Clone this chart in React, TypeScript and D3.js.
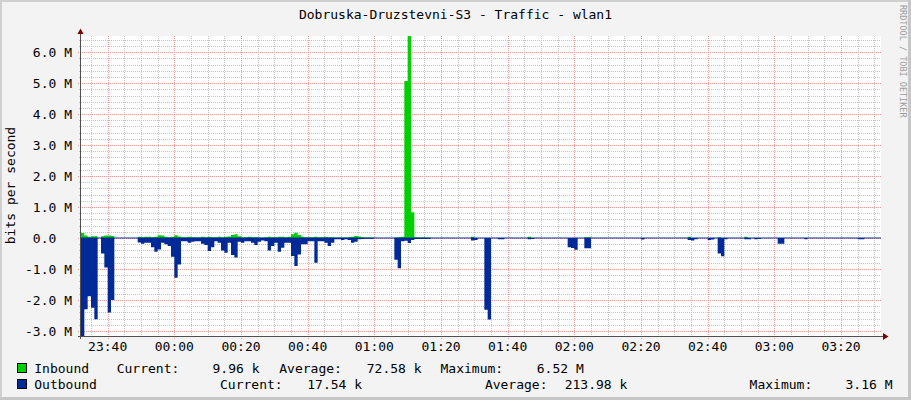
import React from "react";
import * as d3 from "d3";

const W = 911;
const H = 400;
const title = "Dobruska-Druzstevni-S3 - Traffic - wlan1";
const yTitle = "bits per second";
const watermark = "RRDTOOL / TOBI OETIKER";
const startTime = new Date(2020, 0, 1, 23, 32, 0);
const minutes = 240;
const yDomain = [-3.16, 6.52]; // Mbit/s

// Inbound, Mbit/s per minute from 23:32
const inbound = [
  0.16, 0.08, 0.04, 0.06, 0.06, 0, 0.06, 0.08, 0.08, 0.07, 0, 0, 0, 0, 0, 0, 0, 0.04, 0.03, 0.04,
  0.04, 0.03, 0.04, 0.09, 0.08, 0.04, 0.03, 0.04, 0.09, 0.05, 0.03, 0.03, 0.04, 0.03, 0.03, 0.03, 0.04, 0.03, 0.04, 0.03,
  0.03, 0.04, 0.03, 0.04, 0.05, 0.1, 0.12, 0.06, 0.03, 0.03, 0.04, 0.03, 0.03, 0.02, 0.02, 0.03, 0.04, 0.03, 0.03, 0.04,
  0.04, 0.03, 0.04, 0.12, 0.17, 0.1, 0.04, 0.03, 0.03, 0.03, 0.04, 0.03, 0.03, 0.04, 0.03, 0.03, 0.02, 0.02, 0.02, 0.02,
  0.03, 0.04, 0.07, 0.05, 0.03, 0.02, 0.02, 0.02, 0, 0, 0, 0, 0, 0, 0.02, 0.03, 0.04, 5.07, 6.52, 0.83,
  0.03, 0.02, 0.02, 0.02, 0.02, 0, 0, 0, 0, 0, 0, 0, 0, 0, 0, 0, 0, 0.04, 0, 0,
  0, 0, 0, 0, 0, 0, 0, 0, 0, 0, 0, 0, 0, 0, 0.04, 0, 0, 0, 0, 0,
  0, 0, 0, 0, 0, 0, 0, 0, 0, 0, 0, 0.03, 0.03, 0, 0, 0, 0, 0, 0, 0,
  0, 0, 0, 0, 0, 0, 0, 0, 0, 0, 0, 0, 0, 0, 0, 0, 0, 0, 0, 0,
  0, 0, 0.04, 0, 0, 0, 0, 0, 0, 0, 0, 0.03, 0, 0, 0, 0, 0, 0, 0, 0.04,
  0, 0, 0, 0, 0, 0, 0, 0, 0, 0, 0, 0, 0, 0, 0, 0, 0, 0, 0, 0,
  0, 0, 0, 0, 0, 0, 0, 0, 0, 0, 0, 0, 0, 0, 0, 0, 0, 0, 0, 0,
];

// Outbound, Mbit/s per minute from 23:32 (drawn below zero)
const outbound = [
  3.16, 2.3, 1.88, 2.25, 2.62, 0, 0.5, 0.95, 2.4, 2.0, 0, 0, 0, 0, 0, 0, 0, 0.14, 0.18, 0.15,
  0.15, 0.3, 0.44, 0.37, 0.15, 0.2, 0.26, 0.6, 1.28, 0.85, 0.1, 0.1, 0.15, 0.12, 0.1, 0.1, 0.18, 0.22, 0.42, 0.3,
  0.1, 0.15, 0.4, 0.47, 0.15, 0.55, 0.63, 0.12, 0.15, 0.1, 0.1, 0.15, 0.22, 0.12, 0.08, 0.1, 0.4, 0.26, 0.15, 0.44,
  0.31, 0.15, 0.15, 0.58, 0.9, 0.53, 0.2, 0.2, 0.1, 0.1, 0.8, 0.1, 0.1, 0.15, 0.26, 0.15, 0.04, 0.04, 0.06, 0.04,
  0.06, 0.15, 0.12, 0.04, 0.03, 0.02, 0.02, 0.02, 0, 0, 0, 0, 0, 0, 0.7, 0.97, 0.1, 0.09, 0.16, 0.06,
  0.03, 0.03, 0.03, 0.03, 0.02, 0, 0, 0, 0, 0, 0, 0, 0, 0, 0, 0, 0, 0.08, 0.06, 0,
  0, 2.31, 2.63, 0, 0, 0.04, 0.04, 0, 0, 0, 0, 0, 0, 0, 0.04, 0.03, 0, 0, 0, 0,
  0, 0, 0, 0, 0, 0, 0.3, 0.32, 0.38, 0, 0, 0.33, 0.33, 0, 0, 0, 0, 0, 0, 0,
  0, 0, 0, 0, 0, 0, 0, 0, 0.05, 0, 0, 0, 0, 0, 0, 0, 0, 0, 0, 0,
  0, 0, 0.06, 0.08, 0.04, 0, 0, 0, 0.06, 0.05, 0, 0.5, 0.59, 0.04, 0, 0, 0, 0, 0, 0.04,
  0.04, 0, 0.04, 0.03, 0, 0, 0, 0, 0, 0.18, 0.18, 0, 0, 0, 0, 0, 0, 0.04, 0, 0,
  0, 0, 0, 0, 0, 0, 0, 0, 0, 0, 0, 0, 0, 0.04, 0.04, 0, 0, 0, 0, 0,
];

const seriesNames = ["Inbound", "Outbound"];
const seriesColors = ["#00CF00", "#002A97"];
const statLabels = ["Current:", "Average:", "Maximum:"];
const inboundStats = ["9.96 k", "72.58 k", "6.52 M"];
const outboundStats = ["17.54 k", "213.98 k", "3.16 M"];

const FONT = "'DejaVu Sans Mono', monospace";
const L = 81, R = 881, T = 36, B = 336;

export default function App() {
  const endTime = d3.timeMinute.offset(startTime, minutes);
  const x = d3.scaleTime().domain([startTime, endTime]).range([L, R]);
  const y = d3.scaleLinear().domain(yDomain).range([B, T]);
  const tAt = (i: number) => d3.timeMinute.offset(startTime, i);

  const inArea = d3
    .area<number>()
    .x((_, i) => x(tAt(i)))
    .y0(y(0))
    .y1((d) => y(d))
    .curve(d3.curveStepAfter);
  const outArea = d3
    .area<number>()
    .x((_, i) => x(tAt(i)))
    .y0(y(0))
    .y1((d) => y(-d))
    .curve(d3.curveStepAfter);

  const inPts = [...inbound, inbound[inbound.length - 1]];
  const outPts = [...outbound, outbound[outbound.length - 1]];

  const minorX = x.ticks(d3.timeMinute.every(5)!).filter((d) => d.getMinutes() % 20 !== 0);
  const majorX = x.ticks(d3.timeMinute.every(20)!);
  const yK = d3.range(-15, 33);
  const fmtT = d3.timeFormat("%H:%M");
  const snap = (v: number) => Math.round(v) + 0.5;

  const grey = "#c4c4c4";
  const red = "#f29a9a";

  return (
    <svg width={W} height={H} style={{ position: "absolute", left: 0, top: 0 }} fontFamily={FONT}>
      <rect x={0} y={0} width={W} height={H} fill="#f3f3f3" />
      <rect x={0} y={0} width={W} height={2} fill="#cfcfcf" />
      <rect x={0} y={0} width={2} height={H} fill="#cfcfcf" />
      <rect x={0} y={H - 3} width={W} height={3} fill="#c6c6c6" />
      <rect x={W - 3} y={0} width={3} height={H} fill="#c6c6c6" />
      <rect x={L} y={T} width={R - L} height={B - T} fill="#ffffff" />

      {/* horizontal grid */}
      {yK.filter((k) => k % 5 !== 0).map((k) => (
        <line key={"hm" + k} x1={L - 2} x2={R} y1={snap(y(k / 5))} y2={snap(y(k / 5))} stroke={grey} strokeDasharray="1,1" />
      ))}
      {minorX.map((d, i) => (
        <line key={"vm" + i} x1={snap(x(d))} x2={snap(x(d))} y1={T} y2={B + 2} stroke={grey} strokeDasharray="1,1" />
      ))}
      {yK.filter((k) => k % 5 === 0).map((k) => (
        <line key={"hM" + k} x1={L - 3} x2={R} y1={snap(y(k / 5))} y2={snap(y(k / 5))} stroke={red} strokeDasharray="1,1" />
      ))}
      {majorX.map((d, i) => (
        <line key={"vM" + i} x1={snap(x(d))} x2={snap(x(d))} y1={T} y2={B + 3} stroke={red} strokeDasharray="1,1" />
      ))}

      {/* data */}
      <path d={inArea(inPts) || ""} fill={seriesColors[0]} />
      <path d={outArea(outPts) || ""} fill={seriesColors[1]} />
      <line x1={L} x2={R} y1={snap(y(0)) - 0.5} y2={snap(y(0)) - 0.5} stroke={seriesColors[1]} strokeWidth={1} />

      {/* axes */}
      <line x1={80.5} x2={80.5} y1={B + 3} y2={31} stroke="#505050" />
      <line x1={78} x2={884} y1={B + 0.5} y2={B + 0.5} stroke="#505050" />
      <path d="M77.5,34 L83.5,34 L80.5,28.5 Z" fill="#800000" />
      <path d={`M883,${B - 3} L883,${B + 4} L888.5,${B + 0.5} Z`} fill="#800000" />

      {/* y labels */}
      {yK.filter((k) => k % 5 === 0).map((k) => {
        const v = k / 5;
        const label = v === 0 ? "0.0" : `${v.toFixed(1)} M`;
        return (
          <text key={"yl" + k} x={v === 0 ? 72 - 2 * 7.83 : 72} y={y(v) + 4.5} textAnchor="end" fontSize={13} fill="#000">
            {label}
          </text>
        );
      })}
      {/* x labels */}
      {majorX.map((d, i) => (
        <text key={"xl" + i} x={x(d)} y={350.5} textAnchor="middle" fontSize={13} fill="#000">
          {fmtT(d)}
        </text>
      ))}

      <text x={455.5} y={19} textAnchor="middle" fontSize={13} fill="#000">{title}</text>
      <text transform="translate(15,185.5) rotate(-90)" textAnchor="middle" fontSize={13} fill="#000">{yTitle}</text>
      <text transform="translate(900,5) rotate(90)" fontSize={8.5} fill="#9c9c9c">{watermark}</text>

      {/* legend */}
      <rect x={17.5} y={363.5} width={9} height={9} fill={seriesColors[0]} stroke="#000" />
      <rect x={17.5} y={379.5} width={9} height={9} fill={seriesColors[1]} stroke="#000" />
      <g fontSize={13} fill="#000">
        <text x={34.3} y={372.5}>{seriesNames[0]}</text>
        <text x={116.7} y={372.5}>{statLabels[0]}</text>
        <text x={212.5} y={372.5}>{inboundStats[0]}</text>
        <text x={279.3} y={372.5}>{statLabels[1]}</text>
        <text x={366.8} y={372.5}>{inboundStats[1]}</text>
        <text x={440.5} y={372.5}>{statLabels[2]}</text>
        <text x={536.8} y={372.5}>{inboundStats[2]}</text>

        <text x={34.3} y={388.5}>{seriesNames[1]}</text>
        <text x={220} y={388.5}>{statLabels[0]}</text>
        <text x={307.3} y={388.5}>{outboundStats[0]}</text>
        <text x={484.9} y={388.5}>{statLabels[1]}</text>
        <text x={564.7} y={388.5}>{outboundStats[1]}</text>
        <text x={749.6} y={388.5}>{statLabels[2]}</text>
        <text x={845.5} y={388.5}>{outboundStats[2]}</text>
      </g>
    </svg>
  );
}
